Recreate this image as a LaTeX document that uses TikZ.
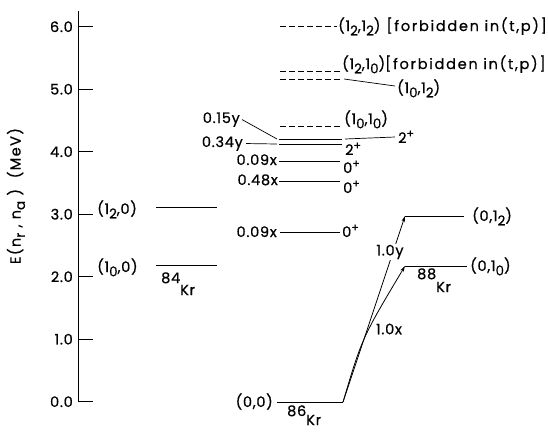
\documentclass[tikz,border=0pt]{standalone}
\usepackage{fontspec}
\setmainfont{Poppins}[LetterSpace=5,FakeBold=0.6]
\usetikzlibrary{arrows.meta}
\newcommand\lsub[1]{\raisebox{-0.55ex}{\fontsize{13.5}{13.5}\selectfont #1}}
\newcommand\lsup[1]{\raisebox{0.7ex}{\fontsize{11}{11}\selectfont #1}}
\newcommand\iso[3]{\raisebox{#2}{#1}#3}
\newcommand\wide{\addfontfeature{LetterSpace=12}}
\begin{document}
\begin{tikzpicture}[x=1pt,y=-1pt,
  font=\fontsize{14.5}{16}\selectfont,
  lvl/.style={line width=1pt},
  dlvl/.style={line width=1pt, dash pattern=on 5.5pt off 3.5pt},
  lab/.style={inner sep=0pt},
  lead/.style={line width=0.7pt},
  arr/.style={line width=0.8pt, -{Stealth[length=6pt,width=3.5pt]}}]
\useasboundingbox (0,0) rectangle (548,432);
% axis
\coordinate (axtop) at (78,11);
\coordinate (axbot) at (78,401.7);
\draw[lvl] (axtop) -- (axbot);
\foreach \e/\t in {0/0.0,1/1.0,2/2.0,3/3.0,4/4.0,5/5.0,6/6.0}{
  \coordinate (tk\e) at (93,{401.7-62.5*\e});
  \draw[lvl] (78,{401.7-62.5*\e}) -- (tk\e);
  \node[lab,anchor=east] (tl\e) at (73,{401.7-62.5*\e}) {\t};
}
\node[lab,rotate=90] (ylab) at (16,196) {\addfontfeature{LetterSpace=10}E(n\lsub{r} , n\lsub{a} )\ \ (MeV)};
% 84Kr
\coordinate (a31l) at (156,207); \coordinate (a31r) at (217,207);
\coordinate (a22l) at (156,265); \coordinate (a22r) at (217,265);
\draw[lvl] (a31l) -- (a31r);
\draw[lvl] (a22l) -- (a22r);
\node[lab,anchor=base west] (la31) at (97,214) {(1\lsub{2},0)};
\node[lab,anchor=base west] (la22) at (97,272) {(1\lsub{0},0)};
\node[lab,anchor=base west] (kr84) at (161,295) {\iso{84}{12pt}{Kr}};
% 86Kr
\coordinate (m60l) at (280,26.7); \coordinate (m60r) at (337,26.7);
\coordinate (m53l) at (280,71); \coordinate (m53r) at (340,71);
\coordinate (m52l) at (280,79); \coordinate (m52r) at (340,79);
\coordinate (m44l) at (280,126); \coordinate (m44r) at (340,126);
\coordinate (m42l) at (279,139); \coordinate (m42r) at (342,139);
\coordinate (m41l) at (279,144); \coordinate (m41r) at (342,144);
\coordinate (m39l) at (279,161); \coordinate (m39r) at (340,161);
\coordinate (m36l) at (279,181); \coordinate (m36r) at (340,181);
\coordinate (m27l) at (280,232); \coordinate (m27r) at (340,232);
\coordinate (m00l) at (277,402); \coordinate (m00r) at (343,402);
\draw[dlvl] (m60l) -- (m60r);
\draw[dlvl] (m53l) -- (m53r);
\draw[dlvl] (m52l) -- (m52r);
\draw[dlvl] (m44l) -- (m44r);
\draw[lvl] (m42l) -- (m42r);
\draw[lvl] (m41l) -- (m41r);
\draw[lvl] (m39l) -- (m39r);
\draw[lvl] (m36l) -- (m36r);
\draw[lvl] (m27l) -- (m27r);
\draw[lvl] (m00l) -- (m00r);
\node[lab,anchor=base west] (l60) at (338,31) {(1\lsub{2},1\lsub{2})\hspace{6pt}{\wide[forbidden in(t,p)]}};
\node[lab,anchor=base west] (l53) at (342,69) {(1\lsub{2},1\lsub{0}){\wide[forbidden in(t,p)]}};
\coordinate (c52) at (395,86);
\draw[lead] ([xshift=4pt]m52r) -- (c52);
\node[lab,anchor=base west] (l52) at (397,93) {(1\lsub{0},1\lsub{2})};
\node[lab,anchor=base west] (l44) at (344,124) {(1\lsub{0},1\lsub{0})};
\coordinate (c42) at (395,137);
\draw[lead] ([xshift=3pt]m42r) -- (c42);
\node[lab,anchor=base west] (l42) at (398,143) {2\lsup{+}};
\node[lab,anchor=base west] (l41) at (345,155) {2\lsup{+}};
\node[lab,anchor=base west] (l39) at (343,173) {0\lsup{+}};
\node[lab,anchor=base west] (l36) at (343,193) {0\lsup{+}};
\node[lab,anchor=base west] (l27) at (342,237) {0\lsup{+}};
\node[lab,anchor=base east] (p015) at (240,123) {0.15y};
\node[lab,anchor=base east] (p034) at (243,147) {0.34y};
\draw[lead] ([xshift=2pt]p015.east) -- ([xshift=-2pt]m42l);
\draw[lead] ([xshift=3pt]p034.east) -- ([xshift=-2pt]m41l);
\node[lab,anchor=base east] (p39) at (277,165) {0.09x};
\node[lab,anchor=base east] (p36) at (278,185) {0.48x};
\node[lab,anchor=base east] (p27) at (277,237) {0.09x};
\node[lab,anchor=base east] (l00) at (273,407) {(0,0)};
\node[lab,anchor=base west] (kr86) at (287,425) {\iso{86}{9pt}{Kr}};
% 88Kr
\coordinate (r30l) at (405,216); \coordinate (r30r) at (464,216);
\coordinate (r22l) at (405,266); \coordinate (r22r) at (467,266);
\draw[lvl] (r30l) -- (r30r);
\draw[lvl] (r22l) -- (r22r);
\node[lab,anchor=base west] (lr30) at (472,221) {(0,1\lsub{2})};
\node[lab,anchor=base west] (lr22) at (470,271) {(0,1\lsub{0})};
\node[lab,anchor=base west] (kr88) at (417,292) {\iso{88}{13pt}{Kr}};
% transitions
\draw[arr] (m00r) -- (r30l);
\draw[arr] (m00r) .. controls (362,338) .. (r22l);
\node[lab,fill=white,inner sep=1pt] (ty) at (390,252) {1.0y};
\node[lab] (tx) at (389,329) {1.0x};
\end{tikzpicture}
\end{document}
